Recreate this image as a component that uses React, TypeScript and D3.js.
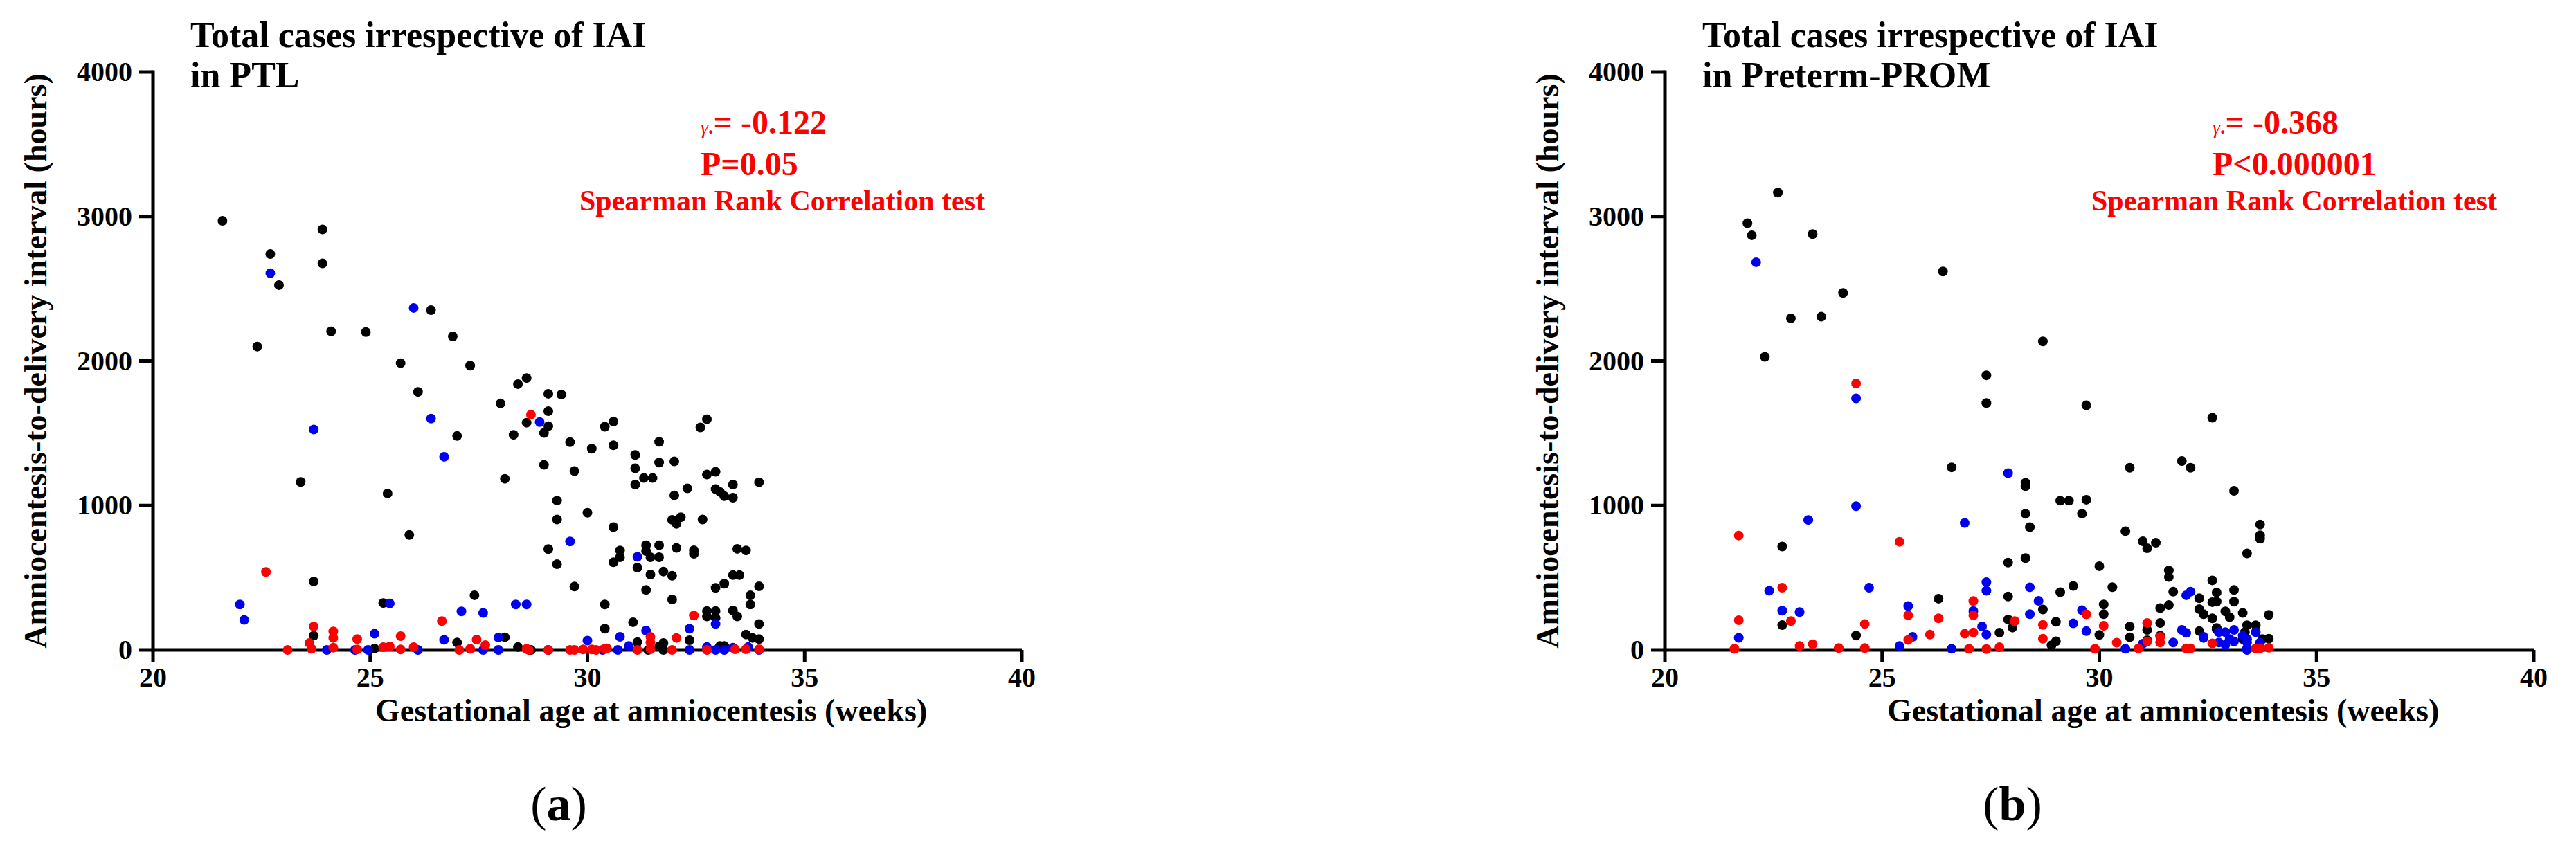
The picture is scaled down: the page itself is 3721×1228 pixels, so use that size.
import React from "react";
import * as d3 from "d3";

// ---------- data: [gestational age (weeks), amniocentesis-to-delivery interval (hours)] ----------
const xTicks = [20, 25, 30, 35, 40];
const yTicks = [0, 1000, 2000, 3000, 4000];

const ptlBlack: [number, number][] = [
  [21.6, 2970], [23.9, 2910], [22.7, 2740], [23.9, 2675], [22.9, 2525], [26.4, 2352], [24.1, 2205], [24.9, 2200],
  [26.9, 2170], [22.4, 2100], [25.7, 1985], [27.3, 1968], [26.1, 1786], [28.0, 1706], [28.4, 1840], [28.6, 1882],
  [29.1, 1773], [29.4, 1768], [29.1, 1653], [28.6, 1573], [29.1, 1549], [29.0, 1502], [28.3, 1489], [27.0, 1481],
  [30.4, 1545], [30.6, 1581], [29.6, 1438], [30.1, 1393], [30.6, 1417], [29.0, 1281], [29.7, 1238], [28.1, 1185],
  [23.4, 1163], [25.4, 1083], [29.3, 1034], [30.0, 950], [29.3, 903], [30.6, 850], [25.9, 796], [29.1, 698],
  [29.3, 594], [30.6, 607], [23.7, 474], [29.7, 439], [27.4, 379], [25.3, 325], [30.4, 315], [30.4, 147],
  [23.7, 99], [28.1, 88], [27.0, 51], [25.1, 10], [28.4, 20], [28.7, 0],
  [31.1, 1350], [31.1, 1257], [31.1, 1145], [31.3, 1190], [31.5, 1190], [31.65, 1441], [31.65, 1297], [32.0, 1305],
  [32.0, 1070], [32.3, 1118], [32.6, 1540], [32.75, 1597], [32.75, 1214], [32.95, 1233], [32.95, 1114], [33.05, 1094],
  [33.15, 1065], [33.35, 1145], [33.35, 1054], [33.95, 1161], [31.95, 901], [32.05, 873], [32.15, 919], [32.65, 903],
  [30.75, 689], [30.75, 642], [31.35, 725], [31.35, 685], [31.65, 725], [31.45, 642], [31.65, 642], [32.05, 706],
  [32.45, 690], [32.45, 666], [33.45, 700], [33.65, 689], [31.15, 570], [31.45, 522], [31.75, 543], [31.95, 514],
  [31.35, 415], [31.95, 350], [32.95, 430], [33.15, 459], [33.35, 518], [33.5, 518], [33.95, 441], [33.75, 378],
  [33.75, 315], [31.05, 192], [32.75, 269], [32.95, 269], [32.75, 232], [32.95, 221], [33.35, 273], [33.45, 232],
  [33.95, 180], [33.65, 107], [33.8, 83], [33.95, 75], [32.35, 67], [31.15, 54], [31.75, 48], [31.65, 24],
  [31.4, 0], [31.75, 0], [33.05, 27], [33.15, 27],
];
const ptlBlue: [number, number][] = [
  [22.7, 2607], [26.0, 2367], [23.7, 1526], [26.4, 1601], [28.9, 1577], [26.7, 1337], [29.6, 751], [22.0, 315],
  [22.1, 208], [25.45, 322], [27.1, 267], [27.6, 256], [28.35, 315], [28.6, 315], [25.1, 112], [26.7, 70],
  [27.95, 86], [30.0, 65], [31.15, 645], [30.75, 91], [31.35, 134], [30.95, 27], [32.35, 147], [32.95, 180],
  [24.0, 0], [24.65, 0], [24.95, 0], [26.1, 0], [27.6, 0], [27.95, 0], [29.1, 0], [30.35, 0], [30.7, 0],
  [32.35, 0], [32.75, 20], [32.95, 0], [33.15, 0], [33.35, 15], [33.7, 20], [33.95, 0],
];
const ptlRed: [number, number][] = [
  [22.6, 540], [28.7, 1629], [26.65, 200], [23.7, 163], [24.15, 128], [24.15, 83], [23.6, 48], [24.7, 75],
  [25.7, 96], [27.45, 72], [27.65, 34], [23.1, 0], [23.65, 8], [24.15, 16], [24.7, 3], [25.3, 19], [25.45, 24],
  [25.7, 3], [26.0, 19], [27.05, 0], [27.3, 8], [28.6, 8], [28.65, 0], [29.1, 0], [29.6, 0], [29.7, 0], [29.9, 3],
  [30.1, 3], [30.4, 8], [32.45, 238], [31.45, 91], [31.45, 51], [32.05, 83], [30.45, 11], [30.2, 0], [31.15, 0],
  [31.45, 5], [31.95, 0], [32.75, 0], [33.4, 5], [33.65, 5], [33.95, 5],
];

const promBlack: [number, number][] = [
  [22.6, 3165], [21.9, 2953], [22.0, 2870], [23.4, 2878], [26.4, 2619], [24.1, 2471], [22.9, 2295], [23.6, 2306],
  [22.3, 2029], [28.7, 2135], [27.4, 1901], [27.4, 1709], [29.7, 1693], [32.6, 1607], [26.6, 1264], [30.7, 1261],
  [31.9, 1308], [32.1, 1261], [28.3, 1157], [28.3, 1134], [33.1, 1102], [29.1, 1033], [29.3, 1033], [29.7, 1040],
  [28.3, 943], [29.6, 943], [28.4, 850], [30.6, 822], [33.7, 868], [33.7, 794], [33.7, 770], [31.0, 752],
  [31.1, 704], [31.3, 742], [22.7, 716], [33.4, 668], [27.9, 605], [28.3, 636], [30.0, 580], [31.6, 550],
  [31.6, 505], [29.4, 443], [30.3, 435], [29.1, 400], [32.6, 482], [33.1, 415], [27.9, 370], [26.3, 355],
  [31.7, 403], [22.7, 172], [24.4, 100], [27.7, 120], [27.9, 211], [28.0, 155], [28.7, 280], [29.0, 195],
  [30.1, 315], [30.1, 248], [30.0, 104], [30.7, 163], [30.7, 88], [28.9, 32], [29.0, 60], [31.4, 290],
  [31.4, 187], [31.4, 99], [32.7, 398], [32.7, 334], [32.6, 331], [33.1, 334], [32.3, 358], [32.3, 283],
  [32.4, 248], [32.9, 267], [33.0, 227], [33.3, 256], [32.6, 219], [33.9, 243], [31.6, 311], [31.1, 139],
  [31.1, 67], [32.3, 131], [32.7, 142], [33.4, 171], [33.6, 171], [33.9, 78], [33.35, 123], [33.3, 75],
  [33.75, 75], [32.7, 152],
];
const promBlue: [number, number][] = [
  [22.1, 2683], [24.4, 1741], [27.9, 1224], [24.4, 995], [23.3, 900], [26.9, 879], [22.4, 410], [24.7, 431],
  [27.4, 469], [27.4, 410], [28.4, 434], [22.7, 272], [23.1, 262], [25.6, 304], [27.1, 270], [28.6, 340],
  [28.4, 248], [29.6, 275], [29.4, 184], [21.7, 84], [27.3, 163], [27.4, 107], [25.7, 91], [29.7, 130],
  [25.4, 27], [26.6, 8], [30.6, 8], [31.0, 43], [32.0, 379], [32.1, 403], [31.9, 139], [32.0, 118], [32.4, 91],
  [31.7, 51], [32.9, 123], [33.0, 75], [33.1, 139], [33.1, 59], [32.9, 35], [33.4, 75], [33.4, 11], [33.6, 123],
  [33.7, 51], [32.4, 83], [32.75, 123], [32.75, 51], [33.4, 51], [33.4, 0], [33.3, 99],
];
const promRed: [number, number][] = [
  [24.4, 1844], [21.7, 792], [25.4, 749], [22.7, 431], [21.7, 206], [22.9, 200], [25.6, 240], [26.3, 219],
  [24.6, 180], [27.1, 339], [27.1, 240], [28.05, 200], [28.7, 174], [28.7, 78], [29.7, 247], [30.1, 168],
  [31.1, 187], [26.1, 106], [25.6, 70], [26.9, 112], [27.1, 121], [23.4, 40], [23.1, 27], [21.6, 8], [24.0, 13],
  [24.6, 13], [27.0, 8], [27.4, 6], [27.7, 19], [29.9, 8], [30.4, 50], [30.9, 11], [31.4, 91], [31.4, 51],
  [31.1, 59], [32.0, 11], [32.1, 11], [32.6, 45], [33.6, 11], [33.9, 15], [33.7, 11],
];

const panels = [
  {
    key: "a",
    titleLines: ["Total cases irrespective of IAI", "in PTL"],
    rValue: "= -0.122",
    pValue: "P=0.05",
    tag: "a",
    black: ptlBlack,
    blue: ptlBlue,
    red: ptlRed,
  },
  {
    key: "b",
    titleLines: ["Total cases irrespective of IAI", "in Preterm-PROM"],
    rValue: "= -0.368",
    pValue: "P<0.000001",
    tag: "b",
    black: promBlack,
    blue: promBlue,
    red: promRed,
  },
];

// ---------- layout ----------
const W = 3721;
const H = 1228;
const plotLefts = [221, 2405];
const tagCenters = [807, 2907];
const plotW = 1255;
const yBottom = 939;
const yTop = 104;
const FONT = "'Liberation Serif', 'Times New Roman', serif";
const RED = "#ff0000";
const BLUE = "#0000f0";

function Panel({ p, left, tagX }: { p: typeof panels[number]; left: number; tagX: number }) {
  const x = d3.scaleLinear().domain([20, 40]).range([left, left + plotW]);
  const y = d3.scaleLinear().domain([0, 4000]).range([yBottom, yTop]);
  const r = 7;
  const dots = (arr: [number, number][], color: string) =>
    arr.map((d, i) => <circle key={color + i} cx={x(d[0])} cy={y(d[1])} r={r} fill={color} />);

  return (
    <g fontFamily={FONT} fontWeight="bold">
      {/* title */}
      <text x={left + 54} y={68} fontSize={52}>{p.titleLines[0]}</text>
      <text x={left + 54} y={126} fontSize={52}>{p.titleLines[1]}</text>

      {/* y axis */}
      <line x1={left} x2={left} y1={y(0) + 2.5} y2={y(4000) - 2.5} stroke="#000" strokeWidth={5} />
      {yTicks.map((t) => (
        <g key={"yt" + t}>
          <line x1={left - 20} x2={left} y1={y(t)} y2={y(t)} stroke="#000" strokeWidth={5} />
          <text x={left - 30} y={y(t) + 13} fontSize={40} textAnchor="end">{t}</text>
        </g>
      ))}
      <text
        transform={`translate(${left - 154},${(yBottom + yTop) / 2}) rotate(-90)`}
        fontSize={46}
        textAnchor="middle"
      >
        Amniocentesis-to-delivery interval (hours)
      </text>

      {/* x axis */}
      <line x1={left} x2={x(40)} y1={y(0)} y2={y(0)} stroke="#000" strokeWidth={5} />
      {xTicks.map((t) => (
        <g key={"xt" + t}>
          <line x1={x(t)} x2={x(t)} y1={y(0)} y2={y(0) + 18} stroke="#000" strokeWidth={5} />
          <text x={x(t)} y={992} fontSize={40} textAnchor="middle">{t}</text>
        </g>
      ))}
      <text x={left + 321} y={1042} fontSize={46}>Gestational age at amniocentesis (weeks)</text>

      {/* points */}
      {dots(p.black, "#000")}
      {dots(p.blue, BLUE)}
      {dots(p.red, RED)}

      {/* statistics */}
      <text x={left + 791} y={193} fill={RED} fontSize={48}>
        <tspan fontSize={28} fontWeight="normal" fontStyle="italic">γ</tspan>
        <tspan fontSize={30}>.</tspan>
        <tspan>{p.rValue}</tspan>
      </text>
      <text x={left + 791} y={253} fill={RED} fontSize={48}>{p.pValue}</text>
      <text x={left + 616} y={304} fill={RED} fontSize={42}>Spearman Rank Correlation test</text>

      {/* panel tag */}
      <text x={tagX} y={1185} fontSize={70} textAnchor="middle" fontWeight="normal">
        (<tspan fontWeight="bold">{p.tag}</tspan>)
      </text>
    </g>
  );
}

export default function App() {
  return (
    <svg
      width={W}
      height={H}
      viewBox={`0 0 ${W} ${H}`}
      style={{ position: "absolute", left: 0, top: 0, background: "#fff" }}
    >
      <rect x={0} y={0} width={W} height={H} fill="#fff" />
      {panels.map((p, i) => (
        <Panel key={p.key} p={p} left={plotLefts[i]} tagX={tagCenters[i]} />
      ))}
    </svg>
  );
}
